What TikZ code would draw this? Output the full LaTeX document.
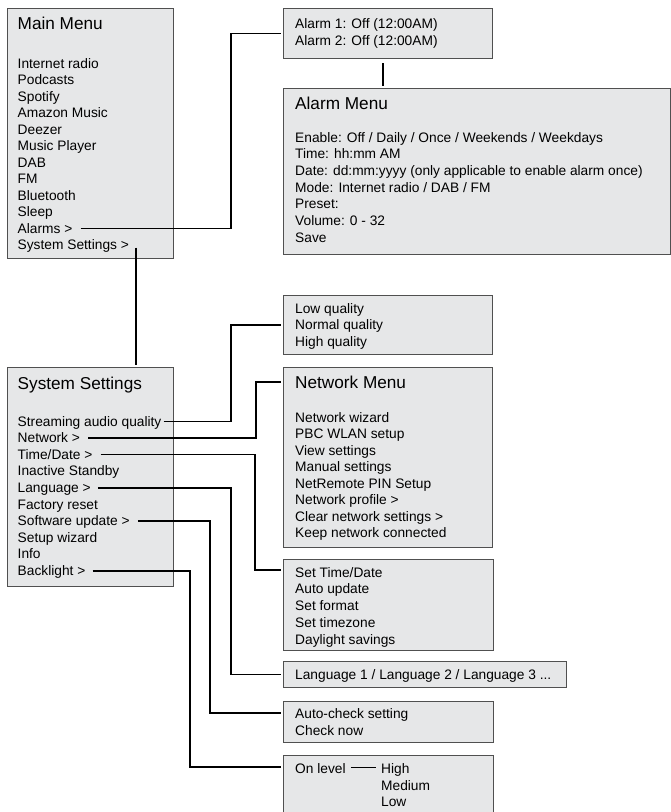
\documentclass[tikz,border=0pt]{standalone}
\usepackage{fontspec}
\setmainfont{Liberation Sans}
\usepackage{tikz}
\definecolor{boxfill}{HTML}{E6E7E8}
\definecolor{boxline}{HTML}{505050}

\begin{document}
\begin{tikzpicture}[x=1pt,y=-1pt,
  menubox/.style={draw=boxline,fill=boxfill,line width=1.2pt,anchor=north west,inner sep=0pt},
  item/.style={anchor=base west,inner sep=0pt,font=\fontsize{13.75}{16}\selectfont},
  head/.style={anchor=base west,inner sep=0pt,font=\fontsize{17.2}{20}\selectfont},
  link/.style={line width=1.4pt,shorten >=2pt}]
  \useasboundingbox (0,0) rectangle (671,812);
  \node[menubox,minimum width=166pt,minimum height=250pt] (mainbox) at (7,8) {};
  \node[menubox,minimum width=209pt,minimum height=50pt] (alarmlist) at (283,8) {};
  \node[menubox,minimum width=387pt,minimum height=166pt] (alarmmenu) at (283,88) {};
  \node[menubox,minimum width=209pt,minimum height=59pt] (qualbox) at (283,295) {};
  \node[menubox,minimum width=209pt,minimum height=180pt] (netbox) at (283,367) {};
  \node[menubox,minimum width=166pt,minimum height=219pt] (ssbox) at (7,367) {};
  \node[menubox,minimum width=210pt,minimum height=91pt] (timebox) at (283,559) {};
  \node[menubox,minimum width=283pt,minimum height=26pt] (langbox) at (283,661) {};
  \node[menubox,minimum width=210pt,minimum height=41pt] (swbox) at (283,701) {};
  \node[menubox,minimum width=210pt,minimum height=64pt] (blbox) at (283,755) {};

  \node[head] (mainhead) at (17.5,29) {Main Menu};
  \foreach \txt [count=\i from 0] in {Internet radio,Podcasts,Spotify,Amazon Music,Deezer,
      Music Player,DAB,FM,Bluetooth,Sleep,Alarms >,System Settings >}
    \node[item] (mm\i) at (17.5,{68+16.5*\i}) {\txt};

  \foreach \txt [count=\i from 0] in {Alarm 1: Off (12:00AM),Alarm 2: Off (12:00AM)}
    \node[item] (al\i) at (295,{28+17*\i}) {\txt};

  \node[head] (alarmhead) at (295,109) {Alarm Menu};
  \foreach \txt [count=\i from 0] in {Enable: Off / Daily / Once / Weekends / Weekdays,
      Time: hh:mm AM,Date: dd:mm:yyyy (only applicable to enable alarm once),
      Mode: Internet radio / DAB / FM,Preset:,Volume: 0 - 32,Save}
    \node[item] (am\i) at (295,{142+16.67*\i}) {\txt};

  \foreach \txt [count=\i from 0] in {Low quality,Normal quality,High quality}
    \node[item] (q\i) at (295,{313+16.7*\i}) {\txt};

  \node[head] (sshead) at (17.5,389) {System Settings};
  \foreach \txt [count=\i from 0] in {Streaming audio quality,Network >,Time/Date >,
      Inactive Standby,Language >,Factory reset,Software update >,Setup wizard,Info,Backlight >}
    \node[item] (ss\i) at (17.5,{426+16.6*\i}) {\txt};

  \node[head] (nethead) at (295,388) {Network Menu};
  \foreach \txt [count=\i from 0] in {Network wizard,PBC WLAN setup,View settings,
      Manual settings,NetRemote PIN Setup,Network profile >,Clear network settings >,
      Keep network connected}
    \node[item] (nm\i) at (295,{422+16.57*\i}) {\txt};

  \foreach \txt [count=\i from 0] in {Set Time/Date,Auto update,Set format,Set timezone,
      Daylight savings}
    \node[item] (td\i) at (295,{577+16.75*\i}) {\txt};

  \node[item] (lang) at (295,679) {Language 1 / Language 2 / Language 3 ...};

  \node[item] (sw0) at (295,718) {Auto-check setting};
  \node[item] (sw1) at (295,735) {Check now};

  \node[item] (onlvl) at (295,773) {On level};
  \node[item] (lvhigh) at (381,773) {High};
  \node[item] (lvmed) at (381,790) {Medium};
  \node[item] (lvlow) at (381,806.5) {Low};

  \draw[link] ([xshift=8pt,yshift=4.5pt]mm10.base east) -| ([xshift=-52pt]alarmlist.west) -- (alarmlist.west);
  \draw[link,shorten <=4pt] ([xshift=-5pt]alarmlist.south) -- ([xshift=-5pt]alarmlist.south |- alarmmenu.north);
  \coordinate (ssdrop) at ([xshift=7pt,yshift=2pt]mm11.base east);
  \draw[link] (ssdrop) -- (ssdrop |- ssbox.north);

  \draw[link] ([xshift=2pt,yshift=4.5pt]ss0.base east) -| ([xshift=-52pt]qualbox.west) -- (qualbox.west);
  \draw[link] ([xshift=8pt,yshift=4.5pt]ss1.base east) -| ([xshift=-27pt,yshift=-15pt]netbox.north west) -- ([yshift=-15pt]netbox.north west);
  \draw[link] ([xshift=8pt,yshift=4.5pt]ss2.base east) -| ([xshift=-28pt,yshift=-11pt]timebox.north west) -- ([yshift=-11pt]timebox.north west);
  \draw[link] ([xshift=7pt,yshift=4.5pt]ss4.base east) -| ([xshift=-52pt]langbox.west) -- (langbox.west);
  \draw[link] ([xshift=8pt,yshift=4.5pt]ss6.base east) -| ([xshift=-73pt,yshift=-12pt]swbox.north west) -- ([yshift=-12pt]swbox.north west);
  \draw[link] ([xshift=7pt,yshift=4.5pt]ss9.base east) -| ([xshift=-93pt,yshift=-12pt]blbox.north west) -- ([yshift=-12pt]blbox.north west);
  \draw[link,shorten >=0pt] ([xshift=5pt,yshift=5.5pt]onlvl.base east) -- ([xshift=-5pt,yshift=5.5pt]lvhigh.base west);
\end{tikzpicture}
\end{document}
